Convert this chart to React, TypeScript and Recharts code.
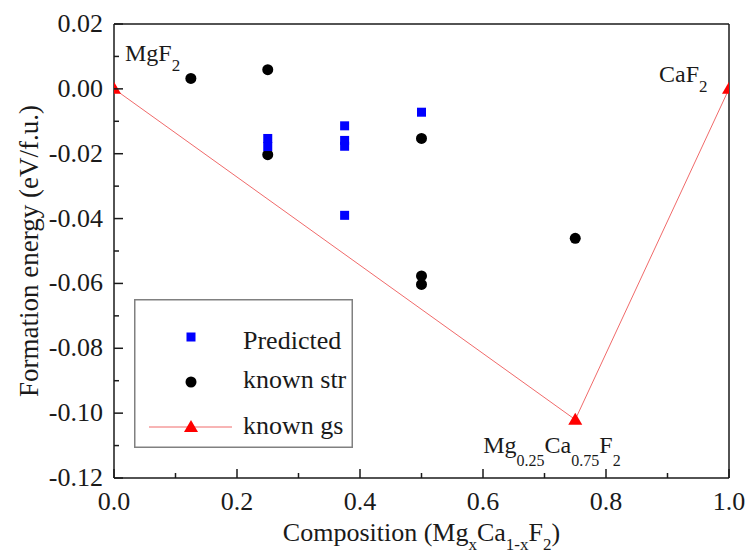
import React from 'react';
import { ComposedChart, XAxis, YAxis, Scatter, Line, Legend, ReferenceDot } from 'recharts';

const predictedX = [0.25, 0.25, 0.375, 0.375, 0.375, 0.375, 0.5];
const predictedY = [-0.0153, -0.0178, -0.0114, -0.0159, -0.0177, -0.039, -0.0072];
const knownStrX = [0.125, 0.25, 0.25, 0.5, 0.5, 0.5, 0.75];
const knownStrY = [0.0032, 0.0059, -0.0203, -0.0153, -0.0577, -0.0603, -0.0461];
const knownGsX = [0, 0.75, 1];
const knownGsY = [0, -0.102, 0];
const xTicks = [0, 0.1, 0.2, 0.3, 0.4, 0.5, 0.6, 0.7, 0.8, 0.9, 1.0];
const yTicks = [-0.12, -0.11, -0.1, -0.09, -0.08, -0.07, -0.06, -0.05, -0.04, -0.03, -0.02, -0.01, 0, 0.01, 0.02];
const seriesNames = ['Predicted', 'known str', 'known gs'];

const predicted = predictedX.map((x, i) => ({ x, y: predictedY[i] }));
const knownStr = knownStrX.map((x, i) => ({ x, y: knownStrY[i] }));
const knownGs = knownGsX.map((x, i) => ({ x, y: knownGsY[i] }));

const FONT = "'Liberation Serif'";
const INK = '#1a1a1a';
const MAJOR = 9;
const MINOR = 5;

const CSS = `
#root .recharts-wrapper text, #root .recharts-wrapper tspan,
#root .serif-t, #root text.serif-t, #root tspan {
  font-family: 'Liberation Serif', 'Times New Roman', serif !important;
}
`;

const ts = (size: number) => ({ fontFamily: FONT, fontSize: size, fill: INK });

const isMajorX = (v: number) => Math.round(v * 10) % 2 === 0;
const isMajorY = (v: number) => Math.round(Math.abs(v) * 100) % 2 === 0;

const BottomTick = (p: any) => {
  const v = p.payload.value;
  const major = isMajorX(v);
  return (
    <g>
      <line x1={p.x} x2={p.x} y1={p.y} y2={p.y - (major ? MAJOR : MINOR)} stroke={INK} strokeWidth={1.5} />
      {major && (
        <text className="serif-t" x={p.x} y={p.y + 32} textAnchor="middle" style={ts(26)}>
          {v.toFixed(1)}
        </text>
      )}
    </g>
  );
};
const TopTick = (p: any) => {
  const v = p.payload.value;
  const major = isMajorX(v);
  return <line x1={p.x} x2={p.x} y1={p.y} y2={p.y + (major ? MAJOR : MINOR)} stroke={INK} strokeWidth={1.5} />;
};
const LeftTick = (p: any) => {
  const v = p.payload.value;
  const major = isMajorY(v);
  return (
    <g>
      <line x1={p.x} x2={p.x + (major ? MAJOR : MINOR)} y1={p.y} y2={p.y} stroke={INK} strokeWidth={1.5} />
      {major && (
        <text className="serif-t" x={p.x - 11} y={p.y + 8} textAnchor="end" style={ts(26)}>
          {Math.abs(v) < 1e-9 ? '0.00' : v.toFixed(2)}
        </text>
      )}
    </g>
  );
};
const RightTick = (p: any) => {
  const v = p.payload.value;
  const major = isMajorY(v);
  return <line x1={p.x} x2={p.x - (major ? MAJOR : MINOR)} y1={p.y} y2={p.y} stroke={INK} strokeWidth={1.5} />;
};

const Square = (p: any) => <rect x={p.cx - 4.5} y={p.cy - 4.5} width={9} height={9} fill="#0000ff" />;
const Circle = (p: any) => <circle cx={p.cx} cy={p.cy} r={5.5} fill="#000000" />;
const Triangle = (p: any) => (
  <polygon
    key={`tri-${p.index}`}
    points={`${p.cx},${p.cy - 7} ${p.cx - 7},${p.cy + 5} ${p.cx + 7},${p.cy + 5}`}
    fill="#ff0000"
  />
);

const XLabel = (props: any) => {
  const vb = props.viewBox || { x: 114, y: 478, width: 615 };
  const cx = vb.x + vb.width / 2;
  const by = vb.y + 63;
  return (
    <text className="serif-t" x={cx} y={by} textAnchor="middle" style={ts(26)}>
      <tspan>Composition (Mg</tspan>
      <tspan style={{ fontSize: 17 }} dy={9}>x</tspan>
      <tspan dy={-9}>Ca</tspan>
      <tspan style={{ fontSize: 17 }} dy={9}>1-x</tspan>
      <tspan dy={-9}>F</tspan>
      <tspan style={{ fontSize: 17 }} dy={9}>2</tspan>
      <tspan dy={-9}>)</tspan>
    </text>
  );
};

const YLabel = (props: any) => {
  const vb = props.viewBox || { x: 0, y: 24, height: 454 };
  const cy = vb.y + vb.height / 2;
  const x = 38;
  return (
    <text className="serif-t" x={x} y={cy} transform={`rotate(-90 ${x} ${cy})`} textAnchor="middle" style={ts(27)}>
      Formation energy (eV/f.u.)
    </text>
  );
};

const MgF2Label = (p: any) => (
  <text className="serif-t" x={p.cx + 11} y={p.cy - 28} style={ts(24)}>
    <tspan>MgF</tspan>
    <tspan style={{ fontSize: 17 }} dy={10}>2</tspan>
  </text>
);
const CaF2Label = (p: any) => (
  <text className="serif-t" x={p.cx - 70} y={p.cy - 7} style={ts(24)}>
    <tspan>CaF</tspan>
    <tspan style={{ fontSize: 17 }} dy={10}>2</tspan>
  </text>
);
const MixLabel = (p: any) => (
  <text className="serif-t" x={p.cx - 92} y={p.cy + 33} style={ts(24)}>
    <tspan>Mg</tspan>
    <tspan style={{ fontSize: 16 }} dy={13}>0.25</tspan>
    <tspan dy={-13}>Ca</tspan>
    <tspan style={{ fontSize: 16 }} dy={13}>0.75</tspan>
    <tspan dy={-13}>F</tspan>
    <tspan style={{ fontSize: 16 }} dy={13}>2</tspan>
  </text>
);

const LegendBox = () => (
  <svg width={220} height={150} style={{ display: 'block' }}>
    <rect x={0.75} y={0.75} width={217.5} height={147.5} fill="#ffffff" stroke="#808080" strokeWidth={1.5} />
    <rect x={57 - 4.5} y={38 - 4.5} width={9} height={9} fill="#0000ff" />
    <text className="serif-t" x={109} y={50} style={ts(26)}>{seriesNames[0]}</text>
    <circle cx={57} cy={83} r={5.5} fill="#000000" />
    <text className="serif-t" x={109} y={89} style={ts(26)}>{seriesNames[1]}</text>
    <line x1={15} x2={98} y1={128} y2={128} stroke="#f06a6a" strokeWidth={1} />
    <polygon points={`57,121 50,133 64,133`} fill="#ff0000" />
    <text className="serif-t" x={109} y={135} style={ts(26)}>{seriesNames[2]}</text>
  </svg>
);

export default function App() {
  return (
    <div style={{ position: 'absolute', left: 0, top: 0, width: 748, height: 556, background: '#ffffff', fontFamily: FONT }}>
      <style>{CSS}</style>
      <ComposedChart width={748} height={556} margin={{ top: 23, right: 18, bottom: 0, left: 0 }} style={{ fontFamily: FONT }}>
        <XAxis
          dataKey="x"
          type="number"
          domain={[0, 1]}
          ticks={xTicks}
          allowDataOverflow
          height={78}
          tickSize={0}
          tickMargin={0}
          tick={BottomTick}
          axisLine={{ stroke: INK, strokeWidth: 1.5 }}
          interval={0}
          label={<XLabel />}
        />
        <XAxis
          xAxisId="top"
          orientation="top"
          type="number"
          domain={[0, 1]}
          ticks={xTicks}
          height={1}
          tickSize={0}
          tickMargin={0}
          tick={TopTick}
          axisLine={{ stroke: INK, strokeWidth: 1.5 }}
          interval={0}
        />
        <YAxis
          dataKey="y"
          type="number"
          domain={[-0.12, 0.02]}
          ticks={yTicks}
          allowDataOverflow
          width={114}
          tickSize={0}
          tickMargin={0}
          tick={LeftTick}
          axisLine={{ stroke: INK, strokeWidth: 1.5 }}
          interval={0}
          label={<YLabel />}
        />
        <YAxis
          yAxisId="right"
          orientation="right"
          type="number"
          domain={[-0.12, 0.02]}
          ticks={yTicks}
          width={1}
          tickSize={0}
          tickMargin={0}
          tick={RightTick}
          axisLine={{ stroke: INK, strokeWidth: 1.5 }}
          interval={0}
        />
        <Line
          data={knownGs}
          dataKey="y"
          name={seriesNames[2]}
          stroke="#f06a6a"
          strokeWidth={1}
          dot={Triangle}
          activeDot={false}
          isAnimationActive={false}
        />
        <Scatter data={knownStr} dataKey="y" name={seriesNames[1]} shape={Circle} isAnimationActive={false} />
        <Scatter data={predicted} dataKey="y" name={seriesNames[0]} shape={Square} isAnimationActive={false} />
        <ReferenceDot x={knownGsX[0]} y={knownGsY[0]} r={0} ifOverflow="visible" shape={MgF2Label} />
        <ReferenceDot x={knownGsX[2]} y={knownGsY[2]} r={0} ifOverflow="visible" shape={CaF2Label} />
        <ReferenceDot x={knownGsX[1]} y={knownGsY[1]} r={0} ifOverflow="visible" shape={MixLabel} />
        <Legend
          layout="horizontal"
          verticalAlign="middle"
          align="center"
          content={LegendBox}
          wrapperStyle={{ position: 'absolute', left: 134, top: 299, width: 220, height: 150, margin: 0, padding: 0 }}
        />
      </ComposedChart>
    </div>
  );
}
